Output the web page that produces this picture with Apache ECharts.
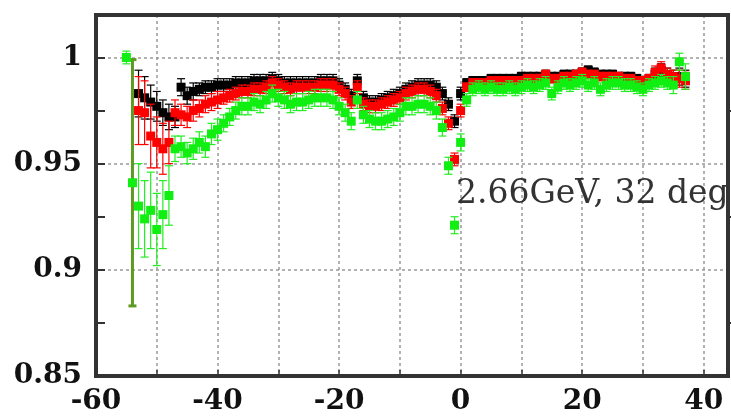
<!DOCTYPE html>
<html><head><meta charset="utf-8">
<script src="https://cdn.jsdelivr.net/npm/echarts@6/dist/echarts.min.js"></script>
<style>html,body{margin:0;padding:0;background:#fff}#c{width:731px;height:416px}</style>
</head><body><div id="c"></div>
<script>
const angles = [-55,-54,-53,-52,-51,-50,-49,-48,-47,-46,-45,-44,-43,-42,-41,-40,-39,-38,-37,-36,-35,-34,-33,-32,-31,-30,-29,-28,-27,-26,-25,-24,-23,-22,-21,-20,-19,-18,-17,-16,-15,-14,-13,-12,-11,-10,-9,-8,-7,-6,-5,-4,-3,-2,-1,0,1,2,3,4,5,6,7,8,9,10,11,12,13,14,15,16,17,18,19,20,21,22,23,24,25,26,27,28,29,30,31,32,33,34,35,36,37];

const blackVals = [null,null,0.983,0.981,0.979,0.977,0.974,0.972,0.972,0.986,0.982,0.984,0.985,0.986,0.986,0.987,0.987,0.987,0.988,0.988,0.988,0.989,0.989,0.989,0.990,0.989,0.988,0.988,0.988,0.988,0.988,0.988,0.989,0.989,0.989,0.987,0.985,0.982,0.989,0.981,0.979,0.979,0.980,0.981,0.982,0.983,0.985,0.986,0.987,0.987,0.987,0.986,0.983,0.978,0.970,0.983,0.988,0.989,0.989,0.989,0.990,0.990,0.990,0.990,0.990,0.991,0.991,0.991,0.991,0.992,0.991,0.991,0.992,0.992,0.992,0.993,0.994,0.993,0.992,0.992,0.992,0.991,0.991,0.991,0.990,0.989,0.990,0.992,0.994,0.992,0.991,0.991,0.990];
const blackErr = [null,null,0.011,0.010,0.008,0.007,0.006,0.006,0.005,0.004,0.004,0.004,0.003,0.003,0.003,0.003,0.003,0.003,0.003,0.003,0.003,0.003,0.003,0.003,0.003,0.003,0.003,0.003,0.003,0.003,0.003,0.003,0.003,0.003,0.003,0.003,0.003,0.003,0.003,0.003,0.003,0.003,0.003,0.003,0.003,0.003,0.003,0.003,0.003,0.003,0.003,0.003,0.003,0.003,0.003,0.003,0.002,0.002,0.002,0.002,0.002,0.002,0.002,0.002,0.002,0.002,0.002,0.002,0.002,0.002,0.002,0.002,0.002,0.002,0.002,0.002,0.002,0.002,0.002,0.002,0.002,0.002,0.002,0.002,0.002,0.002,0.002,0.003,0.003,0.003,0.003,0.004,0.004];

const redVals = [null,null,0.975,0.974,0.963,0.960,0.957,0.960,0.974,0.973,0.972,0.975,0.976,0.978,0.979,0.980,0.981,0.982,0.983,0.984,0.984,0.985,0.985,0.986,0.988,0.987,0.986,0.985,0.986,0.986,0.986,0.986,0.987,0.987,0.987,0.985,0.983,0.979,0.986,0.978,0.977,0.977,0.978,0.979,0.980,0.981,0.983,0.984,0.985,0.985,0.984,0.982,0.976,0.969,0.952,0.975,0.986,0.988,0.988,0.988,0.989,0.989,0.989,0.989,0.989,0.989,0.990,0.990,0.990,0.992,0.990,0.990,0.991,0.991,0.992,0.993,0.992,0.992,0.991,0.991,0.991,0.991,0.990,0.990,0.989,0.989,0.990,0.993,0.995,0.992,0.991,0.990,0.989];
const redErr = [null,null,0.016,0.015,0.015,0.012,0.012,0.010,0.006,0.005,0.005,0.005,0.004,0.004,0.004,0.004,0.003,0.003,0.003,0.003,0.003,0.003,0.003,0.003,0.003,0.003,0.003,0.003,0.003,0.003,0.003,0.003,0.003,0.003,0.003,0.003,0.003,0.003,0.003,0.003,0.003,0.003,0.003,0.003,0.003,0.003,0.003,0.003,0.003,0.003,0.003,0.003,0.003,0.003,0.003,0.003,0.002,0.002,0.002,0.002,0.002,0.002,0.002,0.002,0.002,0.002,0.002,0.002,0.002,0.002,0.002,0.002,0.002,0.002,0.002,0.002,0.002,0.002,0.002,0.002,0.002,0.002,0.002,0.002,0.002,0.002,0.002,0.003,0.003,0.003,0.003,0.004,0.004];

const greenVals = [1.000,0.941,0.930,0.924,0.928,0.919,0.926,0.935,0.957,0.958,0.955,0.957,0.960,0.958,0.964,0.966,0.969,0.972,0.975,0.977,0.977,0.979,0.978,0.980,0.983,0.981,0.980,0.978,0.979,0.979,0.980,0.981,0.981,0.981,0.980,0.977,0.974,0.970,0.980,0.973,0.971,0.970,0.970,0.971,0.972,0.974,0.977,0.977,0.978,0.978,0.977,0.975,0.967,0.949,0.921,0.960,0.980,0.985,0.986,0.985,0.986,0.985,0.985,0.986,0.985,0.986,0.987,0.986,0.987,0.988,0.983,0.986,0.988,0.987,0.988,0.989,0.987,0.988,0.985,0.987,0.988,0.988,0.987,0.987,0.986,0.985,0.987,0.988,0.989,0.988,0.987,0.998,0.991];
const greenErr = [0.003,0.058,0.020,0.018,0.018,0.017,0.016,0.014,0.006,0.005,0.005,0.005,0.005,0.005,0.005,0.005,0.004,0.004,0.004,0.004,0.004,0.004,0.004,0.004,0.004,0.004,0.004,0.004,0.004,0.004,0.004,0.004,0.004,0.004,0.004,0.004,0.004,0.004,0.004,0.004,0.004,0.004,0.004,0.004,0.004,0.004,0.004,0.004,0.004,0.004,0.004,0.004,0.004,0.004,0.004,0.004,0.003,0.003,0.003,0.003,0.003,0.003,0.003,0.003,0.003,0.003,0.003,0.003,0.003,0.003,0.003,0.003,0.003,0.003,0.003,0.003,0.003,0.003,0.003,0.003,0.003,0.003,0.003,0.003,0.003,0.003,0.003,0.003,0.003,0.003,0.004,0.004,0.006];

const xTicks = [-60,-40,-20,0,20,40];
const yTicks = [0.85,0.9,0.95,1];
const annotation = '2.66GeV, 32 deg';

function pts(vals){ const o=[]; vals.forEach((v,i)=>{ if(v!=null) o.push([angles[i],v]); }); return o; }
function errs(vals,e){ const o=[]; vals.forEach((v,i)=>{ if(v!=null) o.push([angles[i],v-e[i],v+e[i]]); }); return o; }

function errSeries(vals,e,color,z){
  return {type:'custom', z:z, silent:true, data:errs(vals,e),
    renderItem:function(params,api){
      const x=api.value(0), lo=api.value(1), hi=api.value(2);
      const p1=api.coord([x,lo]), p2=api.coord([x,hi]);
      const big = (hi-lo)>0.06;
      const col = big ? '#5e9a22' : color;
      const lw = big ? 3 : 1.2;
      const hw=4;
      return {type:'group', children:[
        {type:'line', shape:{x1:p1[0],y1:p1[1],x2:p2[0],y2:p2[1]}, style:{stroke:col,lineWidth:lw}},
        {type:'line', shape:{x1:p1[0]-hw,y1:p1[1],x2:p1[0]+hw,y2:p1[1]}, style:{stroke:col,lineWidth:lw}},
        {type:'line', shape:{x1:p2[0]-hw,y1:p2[1],x2:p2[0]+hw,y2:p2[1]}, style:{stroke:col,lineWidth:lw}}
      ]};
    }};
}
function ptSeries(vals,color,z){
  return {type:'scatter', z:z, silent:true, symbol:'rect', symbolSize:9, data:pts(vals), itemStyle:{color:color, opacity:1}};
}

const labelFont = {fontFamily:'DejaVu Serif', fontWeight:'bold', fontSize:28, color:'#111'};
const frameLine = {show:true, onZero:false, lineStyle:{color:'#333', width:4}};
const chart = echarts.init(document.getElementById('c'));
chart.setOption({
  animation:false,
  backgroundColor:'#fff',
  grid:{left:96, right:3, top:15, bottom:38, show:true, borderColor:'#333', borderWidth:4},
  xAxis:[{type:'value', min:-60, max:44, interval:10, position:'bottom',
    axisLine:frameLine,
    axisTick:{show:true, inside:true, length:6, lineStyle:{color:'#333', width:1.5}},
    axisLabel:Object.assign({margin:12, formatter:function(v){ return xTicks.indexOf(v)>=0 ? String(v) : ''; }}, labelFont),
    splitLine:{show:true, lineStyle:{color:'#999', type:[3,3], width:1.5}}},
   {type:'value', min:-60, max:44, interval:10, position:'top',
    axisLine:frameLine, axisTick:{show:false}, axisLabel:{show:false}, splitLine:{show:false}}],
  yAxis:[{type:'value', min:0.85, max:1.02, interval:0.025, position:'left',
    axisLine:frameLine,
    axisTick:{show:true, inside:true, length:9, lineStyle:{color:'#333', width:2}},
    axisLabel:Object.assign({margin:14, formatter:function(v){ const r=Math.round(v*1000)/1000; return yTicks.indexOf(r)>=0 ? String(r) : ''; }}, labelFont),
    splitLine:{show:false}},
   {type:'value', min:0.85, max:1.02, interval:0.05, position:'right',
    axisLine:frameLine,
    axisTick:{show:false},
    minorTick:{show:true, splitNumber:2, length:9, lineStyle:{color:'#333', width:2}},
    axisLabel:{show:false},
    splitLine:{show:true, lineStyle:{color:'#999', type:[3,3], width:1.5}}}],
  graphic:[{type:'text', left:456, top:178, z:100, style:{text:annotation, fontFamily:'DejaVu Serif', fontSize:33, fill:'#333'}}],
  series:[
    errSeries(blackVals,blackErr,'#000',2), ptSeries(blackVals,'#000',3),
    errSeries(redVals,redErr,'#f00',4), ptSeries(redVals,'#f00',5),
    errSeries(greenVals,greenErr,'#22ee22',6), ptSeries(greenVals,'#11ee11',7)
  ]
});
</script></body></html>
